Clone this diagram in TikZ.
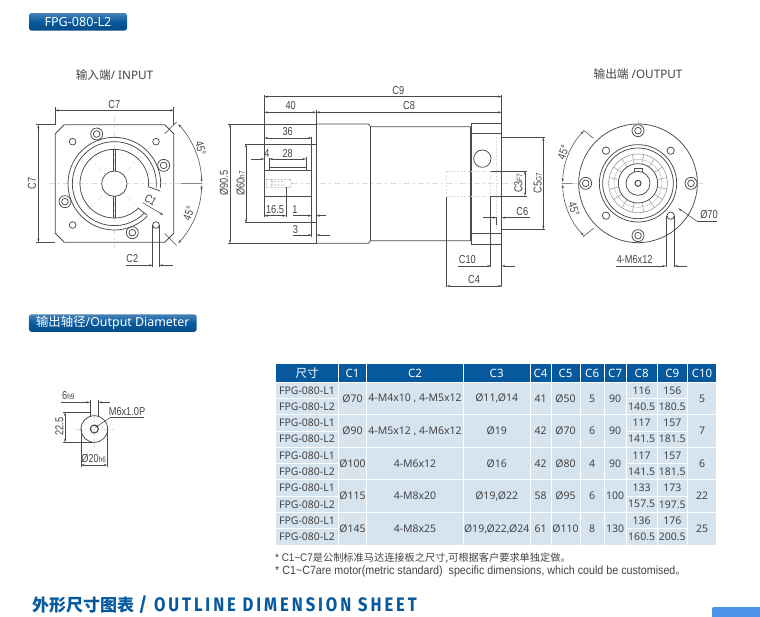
\documentclass[tikz,border=0pt]{standalone}
\usepackage{fontspec}
\usetikzlibrary{arrows.meta}
\setmainfont{Noto Sans}
\newfontfamily\cjk{Noto Sans CJK SC}
\newfontfamily\dimf[FakeStretch=0.8]{Liberation Sans}
\newfontfamily\notef[FakeStretch=0.9]{Liberation Sans}
\newfontfamily\headf[LetterSpace=15,FakeStretch=0.85]{Fira Sans}
\newcommand\fsz[1]{\fontsize{#1}{#1}\selectfont}
\definecolor{ink}{HTML}{4A4A4A}
\definecolor{txt}{HTML}{444444}
\definecolor{head}{HTML}{07599E}
\definecolor{cellc}{HTML}{D6E4F0}
\definecolor{ctr}{HTML}{DDDDDD}
\definecolor{corner}{HTML}{4C94EA}
\newcounter{lb}
\newcommand\lab[4][]{\stepcounter{lb}\node[dimt,#1] (lab\thelb) at (#2,#3) {#4};}
\newcommand\cell[5]{\stepcounter{lb}\fill[cellc] ({#1+0.5},{#3+0.5}) rectangle ({#2-0.5},{#4-0.5});
  \node[celltxt] (cell\thelb) at ({(#1+#2)/2},{(#3+#4)/2}) {#5};}
\newcommand\hcell[3]{\stepcounter{lb}\fill[head] ({#1+0.5},364.3) rectangle ({#2-0.5},382.3);
  \node[headtxt] (hd\thelb) at ({(#1+#2)/2},373.3) {#3};}
\tikzset{
  dimt/.style={font=\dimf\fsz{11.5},text=txt,inner sep=0pt},
  celltxt/.style={font=\fsz{10.5},text=txt,inner sep=0pt},
  headtxt/.style={font=\fsz{11.5},text=white,inner sep=0pt},
  pill/.style={rounded corners=2.5pt,top color=#1!75!white,bottom color=#1!85!black,middle color=#1,text=white,inner sep=0pt,draw=none},
  zoomed/.style={x=0.33333pt,y=-0.33333pt},
  obj/.style={draw=ink,line width=0.75pt},
  thin line/.style={draw=ink,line width=0.55pt},
  dimn/.style={draw=ink,line width=0.55pt,>={Stealth[length=3.6pt,width=2.2pt]}},
  ctrl/.style={draw=ctr,line width=0.6pt,dash pattern=on 6pt off 3pt on 2pt off 3pt},
  hid/.style={draw=ctr,line width=0.6pt,dash pattern=on 2pt off 1.5pt},
  title/.style={font=\fsz{11.7},text=txt,inner sep=0pt},
}
\begin{document}
\begin{tikzpicture}[x=1pt,y=-1pt]
\useasboundingbox (0,0) rectangle (760,616);
\fill[white] (0,0) rectangle (760,616);

% title pills
\node[pill=head,minimum width=98pt,minimum height=17.5pt,font=\fsz{12.6}] (pillA) at (78,21.8) {FPG-080-L2};
\node[pill=head,minimum width=167.7pt,minimum height=17.5pt,font=\fsz{12.4}] (pillB) at (112.8,323) {{\cjk 输出轴径}/Output Diameter};

\node[title] (inT) at (114.5,75) {{\cjk 输入端}/ INPUT};
\node[title] (outT) at (638,74.5) {{\cjk 输出端} /OUTPUT};

%------------ input view
\begin{scope}[shift={(0,0)},zoomed]
\coordinate (ci) at (343,551);
\draw[ctrl] (343,350)--(343,745) (148,551)--(540,551);
\draw[ctrl] (205,410)--(481,690) (205,690)--(481,410);
\draw[obj] (193,374)--(494,374)--(521,401)--(521,700)--(494,727)--(193,727)--(166,700)--(166,401)--cycle;
\foreach \a/\b in {218/425,468/425,218/675,468/675}{\draw[obj,fill=white] (\a,\b) circle (10);}
\foreach \a/\b in {290/402,491/496,195/605,397/698}{\draw[obj,fill=white] (\a,\b) circle (18) (\a,\b) circle (10);}
\draw[obj] (ci)++(5:139) arc[start angle=5,end angle=-315,radius=139];
\draw[obj] (ci)++(5:126) arc[start angle=5,end angle=-315,radius=126];
\draw[obj] (ci)++(5:103) arc[start angle=5,end angle=-315,radius=103];
\draw[obj] (445,560)--(481,573);
\draw[obj] (415,625)--(442,646);
\draw[obj,fill=white] (ci) circle (38);
\draw[obj] (340,448)--(340,513) (347,448)--(347,513) (340,589)--(340,654) (347,589)--(347,654);
\draw[dimn] (166,374)--(166,322) (521,374)--(521,322);
\draw[dimn,<->] (166,331)--(521,331);
\draw[dimn] (108,374)--(166,374) (108,727)--(166,727);
\draw[dimn,<->] (115,374)--(115,727);
\draw[dimn,->] (428,608)--(490,645);
\draw[dimn] (458,675)--(458,800) (478,675)--(478,800);
\draw[dimn,->] (378,796)--(458,796);
\draw[dimn,->] (518,796)--(478,796);
\draw[dimn] (494,401)--(530,366) (494,700)--(530,736) (543,551)--(607,551);
\draw[dimn,<->] (ci)++(-43:262) arc[start angle=-43,end angle=-1,radius=262];
\draw[dimn,<->] (ci)++(43:262) arc[start angle=43,end angle=1,radius=262];
\lab{343}{313}{C7}
\lab[rotate=90]{96}{551}{C7}
\lab[rotate=-32]{452}{600}{C1}
\lab{397}{777}{C2}
\lab[rotate=-75]{602}{445}{45°}
\lab[rotate=70]{566}{640}{45°}
\end{scope}

%------------ side view
\begin{scope}[shift={(220,70)},zoomed]
\draw[ctrl] (215,340)--(880,340);
\draw[obj] (290,162)--(445,162)--(452,170)--(752,170) (452,512)--(752,512) (290,520)--(445,520)--(452,512);
\draw[obj,line width=1.2pt] (452,170)--(452,512) (752,170)--(752,512);
\draw[obj] (755,160)--(845,160)--(845,522)--(755,522)--cycle (755,190)--(845,190) (755,490)--(845,490);
\draw[obj] (787,266) circle (26);
\draw[hid] (830,202)--(830,478) (680,303)--(812,303) (680,380)--(812,380) (680,303)--(680,380) (812,303)--(812,378);
\draw[obj] (133,300)--(275,300) (133,380)--(275,380) (148,292)--(258,292);
\draw[hid,draw=gray!70] (140,328)--(210,328) (140,352)--(210,352) (156,328)--(156,352) (140,328)--(140,352) (210,328)--(216,340)--(210,352) (152,335)--(195,335) (152,345)--(195,345);
\draw[thin line] (133,75)--(133,440) (148,265)--(148,300) (258,262)--(258,300) (198,352)--(198,440);
\draw[thin line] (289,120)--(289,520) (275,200)--(275,500);
\draw[thin line] (75,222)--(290,222) (75,458)--(290,458) (25,162)--(290,162) (25,520)--(290,520);
\draw[thin line] (845,75)--(845,160) (845,202)--(975,202) (845,478)--(975,478);
\draw[thin line] (812,303)--(920,303) (812,378)--(920,378) (812,378)--(812,592) (680,380)--(680,652) (845,522)--(845,652) (830,440)--(830,465);
\draw[dimn,<->] (133,80)--(845,80);
\draw[dimn,<->] (133,127)--(289,127);
\draw[dimn,<->] (289,127)--(845,127);
\draw[dimn,<->] (133,204)--(275,204);
\draw[dimn,<->] (148,267)--(258,267);
\draw[dimn,->] (93,267)--(133,267);
\draw[dimn,<->] (133,437)--(198,437);
\draw[dimn,->] (218,437)--(275,437);
\draw[dimn,->] (318,437)--(289,437);
\draw[dimn,->] (218,495)--(275,495);
\draw[dimn,->] (330,495)--(289,495);
\draw[dimn,<->] (30,162)--(30,520);
\draw[dimn,<->] (78,222)--(78,458);
\draw[dimn,<->] (915,303)--(915,378);
\draw[dimn,<->] (970,202)--(970,478);
\draw[dimn,->] (715,588)--(812,588);
\draw[dimn,->] (885,588)--(845,588);
\draw[dimn,<->] (680,648)--(845,648);
\draw[dimn,->] (790,443)--(830,443);
\draw[dimn,->] (930,443)--(845,443);
\lab{535}{62}{C9}
\lab{212}{107}{40}
\lab{567}{108}{C8}
\lab{203}{186}{36}
\lab{141}{250}{4}
\lab{203}{250}{28}
\lab{165}{418}{16.5}
\lab{225}{418}{1}
\lab{226}{480}{3}
\lab[rotate=90]{12}{340}{Ø90.5}
\lab[rotate=90]{62}{340}{Ø60{\fsz{8}h7}}
\lab[rotate=90]{895}{340}{C3{\fsz{8}F7}}
\lab[rotate=90]{953}{340}{C5{\fsz{8}G7}}
\lab{742}{570}{C10}
\lab{762}{628}{C4}
\lab{907}{426}{C6}
\end{scope}

%------------ output view
\begin{scope}[shift={(550,60)},zoomed]
\coordinate (co) at (264,370);
\draw[ctrl] (70,370)--(460,370) (264,180)--(264,560);
\draw[ctrl] (140,246)--(388,494) (140,494)--(388,246);
\draw[obj,fill=white] (co) circle (178);
\draw[obj,fill=white] (co) circle (116);
\draw[obj] (co) circle (106);
\foreach \a/\b in {264/212,264/527,107/370,423/370}{\draw[obj,fill=white] (\a,\b) circle (18) (\a,\b) circle (10);}
\foreach \a/\b in {168/272,362/272,168/467,362/467}{\draw[obj,fill=white] (\a,\b) circle (11);}
\draw[obj,draw=gray!80,line width=0.6pt] (co) circle (88);
\draw[obj,draw=gray!50,line width=0.5pt] (co) circle (72);
\foreach \t in {11.25,33.75,...,348.75}{\draw[draw=gray!80,line width=0.5pt] (co)++(\t:59)--++(\t:29);}
\draw[obj,fill=white] (co) circle (59);
\draw[obj] (252,335)--(252,325)--(277,325)--(277,335);
\draw[obj] (co) circle (36);
\draw[obj,line width=1pt] (co) circle (9);
\draw[dimn] (100,210)--(130,235) (100,530)--(130,505) (35,370)--(68,370);
\draw[dimn,<->] (co)++(-136:226) arc[start angle=-136,end angle=-179,radius=226];
\draw[dimn,<->] (co)++(136:226) arc[start angle=136,end angle=179,radius=226];
\draw[dimn] (348,467)--(348,622) (373,467)--(373,622);
\draw[dimn,->] (197,618)--(348,618);
\draw[dimn,->] (412,618)--(373,618);
\draw[dimn,->] (440,483)--(385,445);
\draw[dimn] (440,483)--(500,483);
\lab[rotate=70]{40}{278}{45°}
\lab[rotate=-72]{72}{447}{45°}
\lab{477}{465}{Ø70}
\lab{254}{600}{4-M6x12}
\end{scope}

%------------ shaft detail
\begin{scope}[shift={(0,305)},zoomed]
\coordinate (cs) at (283,372);
\draw[ctrl] (225,372)--(342,372) (283,333)--(283,430);
\draw[obj] (cs) circle (40);
\draw[obj,line width=1.1pt] (cs) circle (12);
\draw[thin line] (270,285)--(270,337) (296,285)--(296,337);
\draw[thin line] (188,322)--(270,322) (188,412)--(283,412);
\draw[thin line] (243,372)--(243,485) (322,372)--(322,485);
\draw[dimn,->] (182,292)--(270,292);
\draw[dimn,->] (330,292)--(296,292);
\draw[dimn,<->] (195,322)--(195,412);
\draw[dimn,<->] (243,480)--(322,480);
\draw[dimn,->] (330,338)--(285,368);
\draw[thin line] (330,338)--(432,338);
\lab{205}{272}{6{\fsz{8}h9}}
\lab[rotate=90]{178}{365}{22.5}
\lab{381}{320}{M6x1.0P}
\lab{281}{460}{Ø20{\fsz{8}h6}}
\end{scope}

%------------ table
\hcell{275.7}{338.3}{\cjk 尺寸}
\hcell{338.3}{366.7}{C1}
\hcell{366.7}{463.3}{C2}
\hcell{463.3}{530}{C3}
\hcell{530}{551}{C4}
\hcell{551}{580}{C5}
\hcell{580}{604.3}{C6}
\hcell{604.3}{626}{C7}
\hcell{626}{657.3}{C8}
\hcell{657.3}{687.3}{C9}
\hcell{687.3}{716.7}{C10}
\foreach \y/\ca/\cb/\cc/\cd/\ce/\cf/\cg/\ha/\hb/\ia/\ib/\cj in {
 382.3/Ø70/{4-M4x10 , 4-M5x12}/{Ø11,Ø14}/41/Ø50/5/90/116/140.5/156/180.5/5,
 414.8/Ø90/{4-M5x12 , 4-M6x12}/Ø19/42/Ø70/6/90/117/141.5/157/181.5/7,
 447.4/Ø100/4-M6x12/Ø16/42/Ø80/4/90/117/141.5/157/181.5/6,
 479.9/Ø115/4-M8x20/{Ø19,Ø22}/58/Ø95/6/100/133/157.5/173/197.5/22,
 512.5/Ø145/4-M8x25/{Ø19,Ø22,Ø24}/61/Ø110/8/130/136/160.5/176/200.5/25}{
 \pgfmathsetmacro\ym{\y+16.27}
 \pgfmathsetmacro\ye{\y+32.53}
 \cell{275.7}{338.3}{\y}{\ym}{FPG-080-L1}
 \cell{275.7}{338.3}{\ym}{\ye}{FPG-080-L2}
 \cell{338.3}{366.7}{\y}{\ye}{\ca}
 \cell{366.7}{463.3}{\y}{\ye}{\cb}
 \cell{463.3}{530}{\y}{\ye}{\cc}
 \cell{530}{551}{\y}{\ye}{\cd}
 \cell{551}{580}{\y}{\ye}{\ce}
 \cell{580}{604.3}{\y}{\ye}{\cf}
 \cell{604.3}{626}{\y}{\ye}{\cg}
 \cell{626}{657.3}{\y}{\ym}{\ha}
 \cell{626}{657.3}{\ym}{\ye}{\hb}
 \cell{657.3}{687.3}{\y}{\ym}{\ia}
 \cell{657.3}{687.3}{\ym}{\ye}{\ib}
 \cell{687.3}{716.7}{\y}{\ye}{\cj}
}

%------------ notes
\node[anchor=west,inner sep=0pt,font=\notef\fsz{11},text=txt] (noteA) at (275,558) {* C1\textasciitilde C7{\cjk\fsz{10.2}是公制标准马达连接板之尺寸,可根据客户要求单独定做。}};
\node[anchor=west,inner sep=0pt,font=\notef\fsz{11.9},text=txt] (noteB) at (275,571) {* C1\textasciitilde C7are motor(metric standard)\ \ specific dimensions, which could be customised{\cjk\fsz{10}。}};

%------------ heading
\node[anchor=west,inner sep=0pt,text=head,font=\fsz{17}] (heading) at (32,604.5) {{\cjk\bfseries 外形尺寸图表} {\headf\fsz{19.5}\bfseries / OUTLINE DIMENSION SHEET}};
\fill[corner,rounded corners=2pt] (712,620) rectangle (764,607);
\end{tikzpicture}
\end{document}
